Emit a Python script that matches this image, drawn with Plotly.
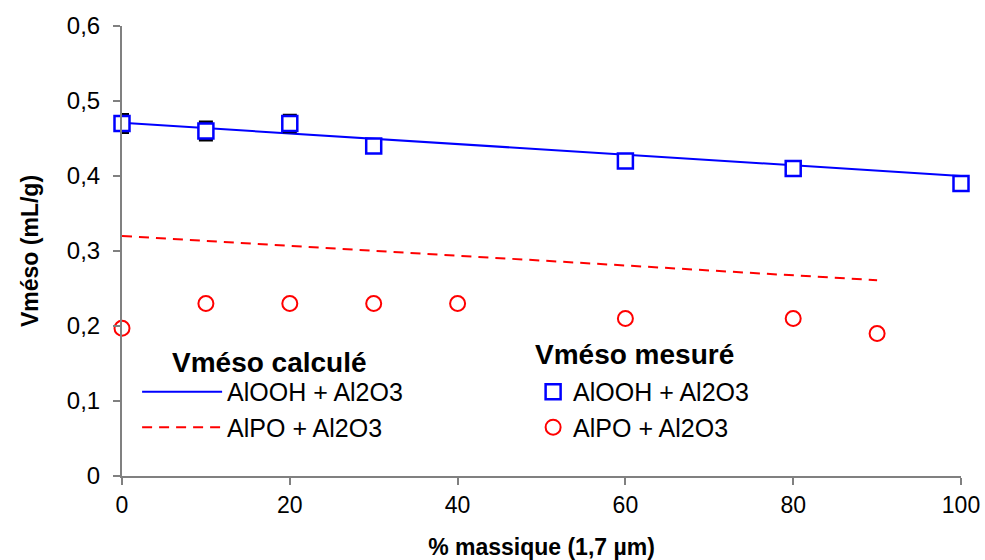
import plotly.graph_objects as go

# Measured data
x_alooh = [0, 10, 20, 30, 60, 80, 100]
y_alooh = [0.47, 0.46, 0.47, 0.44, 0.42, 0.41, 0.39]
err_alooh = [0.012, 0.012, 0.011, 0.006, 0.008, 0.008, 0.006]

x_alpo = [0, 10, 20, 30, 40, 60, 80, 90]
y_alpo = [0.197, 0.23, 0.23, 0.23, 0.23, 0.21, 0.21, 0.19]

# Calculated lines
x_calc_alooh = [0, 100]
y_calc_alooh = [0.471, 0.400]
x_calc_alpo = [0, 90]
y_calc_alpo = [0.320, 0.261]

y_tick_vals = [0, 0.1, 0.2, 0.3, 0.4, 0.5, 0.6]
y_tick_text = ["0", "0,1", "0,2", "0,3", "0,4", "0,5", "0,6"]
x_tick_vals = [0, 20, 40, 60, 80, 100]

legend_titles = ["Vméso calculé", "Vméso mesuré"]

FONT = "Liberation Sans, Arial, sans-serif"

fig = go.Figure()

fig.add_trace(go.Scatter(
    x=x_calc_alooh, y=y_calc_alooh, mode="lines", name="AlOOH + Al2O3",
    line=dict(color="#0000ff", width=2), legend="legend", legendgroup="c1"))
fig.add_trace(go.Scatter(
    x=x_calc_alpo, y=y_calc_alpo, mode="lines", name="AlPO + Al2O3",
    line=dict(color="#ff0000", width=2, dash="10px,7px"), legend="legend", legendgroup="c2"))

fig.add_trace(go.Scatter(
    x=x_alooh, y=y_alooh, mode="markers", name="AlOOH + Al2O3",
    marker=dict(symbol="square", size=15, color="white",
                line=dict(color="#0000ff", width=2.5)),
    error_y=dict(type="data", array=err_alooh, color="black", thickness=3, width=7),
    legend="legend2", legendgroup="m1"))
fig.add_trace(go.Scatter(
    x=x_alpo, y=y_alpo, mode="markers", name="AlPO + Al2O3",
    marker=dict(symbol="circle", size=15, color="white",
                line=dict(color="#ff0000", width=2)),
    legend="legend2", legendgroup="m2"))

fig.update_layout(
    width=985, height=560, autosize=False,
    margin=dict(l=122, r=24, t=26, b=84, autoexpand=False),
    paper_bgcolor="white", plot_bgcolor="white",
    font=dict(family=FONT, size=22, color="black"),
    showlegend=True,
    legend=dict(
        x=0.018, y=0.238, xanchor="left", yanchor="top",
        bgcolor="rgba(0,0,0,0)",
        font=dict(size=25), itemwidth=80, tracegroupgap=0,
        traceorder="grouped",
    ),
    legend2=dict(
        x=0.49, y=0.238, xanchor="left", yanchor="top",
        bgcolor="rgba(0,0,0,0)",
        font=dict(size=25), itemwidth=30, tracegroupgap=0,
        traceorder="grouped",
    ),
    annotations=[
        dict(text="<b>" + legend_titles[0] + "</b>", xref="paper", yref="paper",
             x=0.057, y=0.253, xanchor="left", yanchor="middle", showarrow=False,
             font=dict(size=28)),
        dict(text="<b>" + legend_titles[1] + "</b>", xref="paper", yref="paper",
             x=0.490, y=0.271, xanchor="left", yanchor="middle", showarrow=False,
             font=dict(size=28)),
    ],
    xaxis=dict(
        range=[0, 100], tickvals=x_tick_vals, automargin=False,
        showline=True, linecolor="#808080", linewidth=2,
        ticks="outside", ticklen=7, tickcolor="#808080", tickwidth=1.5,
        showgrid=False, zeroline=False,
        tickfont=dict(size=23),
        title=dict(text="<b>% massique (1,7 µm)</b>", font=dict(size=23), standoff=22),
    ),
    yaxis=dict(
        range=[0, 0.6], tickvals=y_tick_vals, ticktext=y_tick_text, automargin=False,
        showline=True, linecolor="#808080", linewidth=2,
        ticks="outside", ticklen=7, tickcolor="#808080", tickwidth=1.5,
        showgrid=False, zeroline=False, ticklabelstandoff=8,
        tickfont=dict(size=24),
        title=dict(text="<b>Vméso (mL/g)</b>", font=dict(size=23), standoff=22),
    ),
)

for tr in fig.data:
    tr.cliponaxis = False

fig.write_html("out.html", config={"displayModeBar": False, "responsive": False},
               post_script="document.body.style.margin='0';")
